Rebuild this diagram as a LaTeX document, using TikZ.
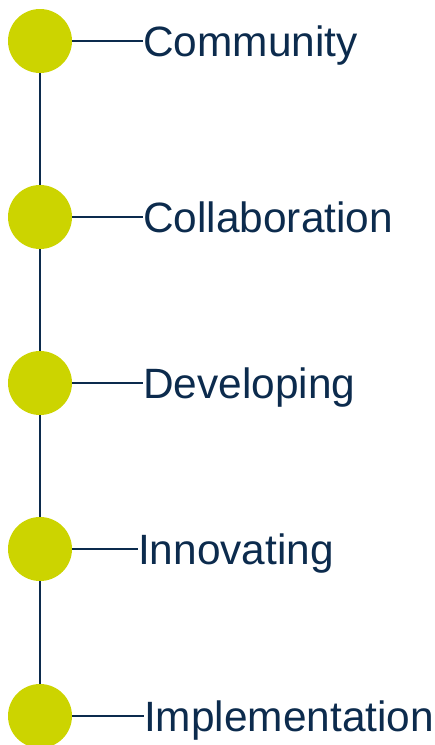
\documentclass[tikz,border=0pt]{standalone}
\usepackage{fontspec}
\setmainfont{Liberation Sans}
\usepackage{tikz}

\definecolor{dotgreen}{RGB}{204,212,0}
\definecolor{navy}{RGB}{12,43,77}

\begin{document}
\begin{tikzpicture}[x=1pt, y=-1pt,
    dot/.style={circle, fill=dotgreen, minimum size=64pt, inner sep=0pt},
    lbl/.style={anchor=west, inner sep=0pt, text height=30.5pt, text depth=0pt,
        text=navy, font=\fontsize{42.4}{48}\selectfont},
    link/.style={draw=navy, line width=2.2pt}]
\useasboundingbox (0,0) rectangle (435,745);
\node[dot] (c1) at (40,41) {};
\node[dot] (c2) at (40,217) {};
\node[dot] (c3) at (40,383) {};
\node[dot] (c4) at (40,549) {};
\node[dot] (c5) at (40,716) {};
\node[lbl] (t1) at (143,41) {Community};
\node[lbl] (t2) at (143,217) {Collaboration};
\node[lbl] (t3) at (143,383) {Developing};
\node[lbl] (t4) at (138,549) {Innovating};
\node[lbl] (t5) at (144,716) {Implementation};
\draw[link] (c1.south) -- (c2.north);
\draw[link] (c2.south) -- (c3.north);
\draw[link] (c3.south) -- (c4.north);
\draw[link] (c4.south) -- (c5.north);
\draw[link] (c1.east) -- (t1.west);
\draw[link] (c2.east) -- (t2.west);
\draw[link] (c3.east) -- (t3.west);
\draw[link] (c4.east) -- (t4.west);
\draw[link] (c5.east) -- (t5.west);
\end{tikzpicture}
\end{document}
